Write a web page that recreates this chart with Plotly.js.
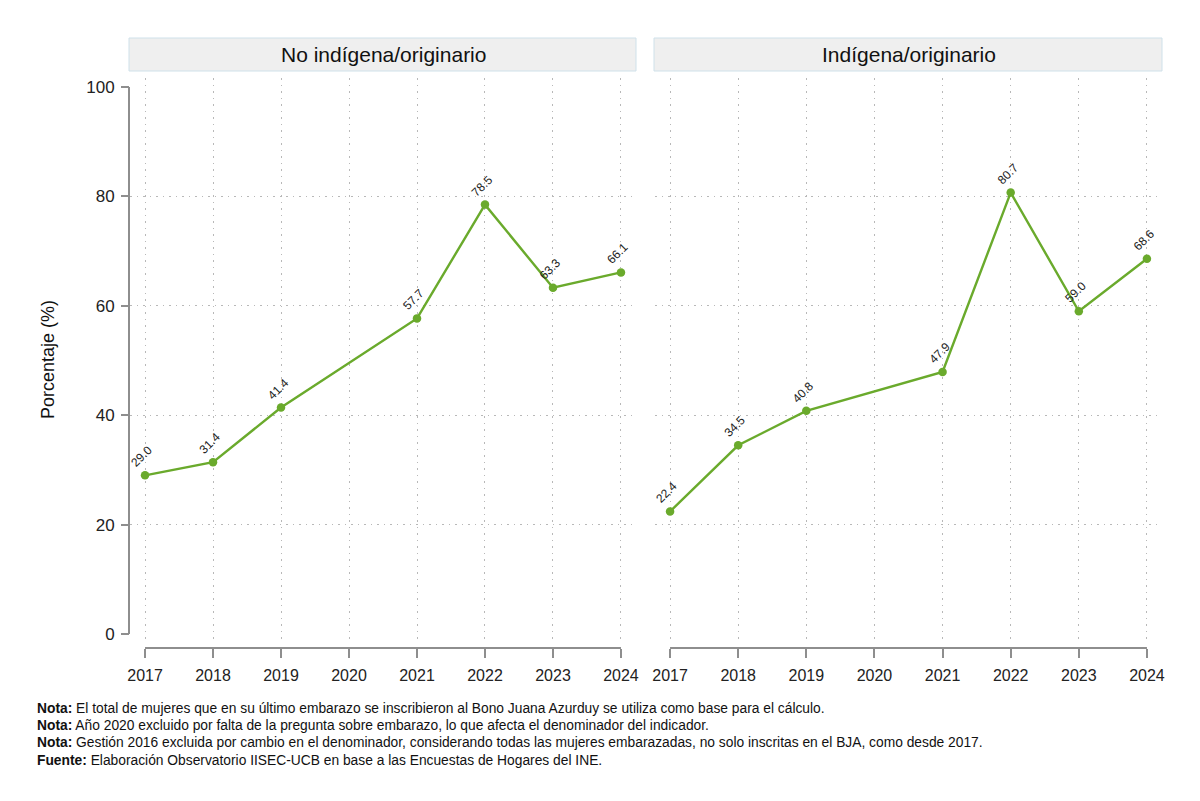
<!DOCTYPE html>
<html>
<head>
<meta charset="utf-8">
<script src="https://cdn.plot.ly/plotly-3.0.1.min.js"></script>
<style>
  html, body { margin: 0; padding: 0; background: #fff; }
  #chart { width: 1200px; height: 801px; }
</style>
</head>
<body>
<div id="chart"></div>
<script>
// Share of women enrolled in Bono Juana Azurduy during their last pregnancy, by group
const years = [2017, 2018, 2019, 2021, 2022, 2023, 2024];
const yearTicks = [2017, 2018, 2019, 2020, 2021, 2022, 2023, 2024];
const noIndigena = [29.0, 31.4, 41.4, 57.7, 78.5, 63.3, 66.1];
const indigena = [22.4, 34.5, 40.8, 47.9, 80.7, 59.0, 68.6];
const panelTitles = ['No indígena/originario', 'Indígena/originario'];
const yTicks = [0, 20, 40, 60, 80, 100];
const yGrid = [20, 40, 60, 80];
const notes = [
  ['Nota:', 'El total de mujeres que en su último embarazo se inscribieron al Bono Juana Azurduy se utiliza como base para el cálculo.'],
  ['Nota:', 'Año 2020 excluido por falta de la pregunta sobre embarazo, lo que afecta el denominador del indicador.'],
  ['Nota:', 'Gestión 2016 excluida por cambio en el denominador, considerando todas las mujeres embarazadas, no solo inscritas en el BJA, como desde 2017.'],
  ['Fuente:', 'Elaboración Observatorio IISEC-UCB en base a las Encuestas de Hogares del INE.']
];

const W = 1200, H = 801;
const px = v => v / W;          // horizontal pixel -> paper
const py = v => 1 - v / H;      // vertical pixel -> paper

const FONT = 'Liberation Sans, Arial, sans-serif';
const GREEN = '#6aaa2c';
const AXIS = '#8e8e8e';
const GRID = '#b8b8b8';

const xPad = 0.221;
const xRange = [yearTicks[0] - xPad, yearTicks[yearTicks.length - 1] + xPad];
const yRange = [-1.65, 101.65];
const xAxisPos = py(648);

const panels = [
  { xa: 'x', ya: 'y', vals: noIndigena, dom: [px(130), px(636)] },
  { xa: 'x2', ya: 'y2', vals: indigena, dom: [px(655), px(1162)] }
];

const traces = panels.map(p => ({
  type: 'scatter', mode: 'lines+markers',
  x: years, y: p.vals, xaxis: p.xa, yaxis: p.ya,
  line: { color: GREEN, width: 2.4 },
  marker: { color: GREEN, size: 8.5 },
  hoverinfo: 'x+y', showlegend: false
}));
// empty trace so the labelled left-hand y axis gets drawn
traces.push({ type: 'scatter', x: [], y: [], xaxis: 'x', yaxis: 'y3', showlegend: false });

function xAxis(dom) {
  return {
    domain: dom, range: xRange, anchor: 'free', position: xAxisPos,
    tickmode: 'array', tickvals: yearTicks, ticktext: yearTicks.map(String),
    ticks: 'outside', ticklen: 9, tickwidth: 2, tickcolor: AXIS,
    ticklabelstandoff: 4,
    tickfont: { family: FONT, size: 16, color: '#222' },
    showline: false, zeroline: false,
    showgrid: true, gridcolor: GRID, gridwidth: 1, griddash: '1.5px,5px',
    fixedrange: true, automargin: false
  };
}
function gridY(anchor) {
  return {
    domain: [py(643), py(78)], range: yRange, anchor: anchor,
    tickmode: 'array', tickvals: yGrid, showticklabels: false, ticks: '',
    showline: false, zeroline: false,
    showgrid: true, gridcolor: GRID, gridwidth: 1, griddash: '1.5px,5px',
    fixedrange: true, automargin: false
  };
}

const annotations = [];
const shapes = [];

panels.forEach((p, i) => {
  // data labels, rotated
  years.forEach((yr, k) => {
    annotations.push({
      xref: p.xa, yref: p.ya, x: yr, y: p.vals[k],
      text: p.vals[k].toFixed(1), showarrow: false, textangle: -45,
      xanchor: 'center', yanchor: 'middle', xshift: -3, yshift: 19,
      font: { family: FONT, size: 12, color: '#222' }
    });
  });
  // x axis baseline between first and last year
  shapes.push({
    type: 'line', xref: p.xa, yref: 'paper',
    x0: yearTicks[0], x1: yearTicks[yearTicks.length - 1], y0: xAxisPos, y1: xAxisPos,
    line: { color: AXIS, width: 2 }
  });
  // panel header strip
  shapes.push({
    type: 'rect', xref: 'paper', yref: 'paper',
    x0: p.dom[0] - px(1), x1: p.dom[1], y0: py(71), y1: py(38),
    fillcolor: '#efefef', line: { color: '#cfe1ea', width: 1 }, layer: 'below'
  });
  annotations.push({
    xref: 'paper', yref: 'paper', x: (p.dom[0] + p.dom[1]) / 2, y: py(55),
    text: panelTitles[i], showarrow: false, xanchor: 'center', yanchor: 'middle',
    font: { family: FONT, size: 21, color: '#111' }
  });
});

// y axis line from 0 to 100
shapes.push({
  type: 'line', xref: 'paper', yref: 'y',
  x0: px(129), x1: px(129), y0: yTicks[0], y1: yTicks[yTicks.length - 1],
  line: { color: AXIS, width: 2 }
});

annotations.push({
  xref: 'paper', yref: 'paper', x: px(48), y: py(360),
  text: 'Porcentaje (%)', showarrow: false, textangle: -90,
  xanchor: 'center', yanchor: 'middle',
  font: { family: FONT, size: 18, color: '#111' }
});

// footnotes, one line each
notes.forEach((n, k) => {
  annotations.push({
    xref: 'paper', yref: 'paper', x: px(35), y: py(708 + k * 17.4),
    xanchor: 'left', yanchor: 'middle', align: 'left', showarrow: false,
    text: '<b>' + n[0] + '</b> ' + n[1],
    font: { family: FONT, size: 13.8, color: '#111' }
  });
});

const layout = {
  width: W, height: H, autosize: false,
  margin: { l: 0, r: 0, t: 0, b: 0, pad: 0 },
  paper_bgcolor: '#fff', plot_bgcolor: 'rgba(0,0,0,0)',
  showlegend: false,
  xaxis: xAxis(panels[0].dom),
  xaxis2: xAxis(panels[1].dom),
  yaxis: gridY('x'),
  yaxis2: gridY('x2'),
  yaxis3: {
    overlaying: 'y', anchor: 'free', position: px(129), side: 'left',
    range: yRange, tickmode: 'array', tickvals: yTicks,
    ticks: 'outside', ticklen: 8, tickwidth: 2, tickcolor: AXIS,
    ticklabelstandoff: 3,
    tickfont: { family: FONT, size: 17, color: '#222' },
    showline: false, zeroline: false, showgrid: false,
    fixedrange: true, automargin: false
  },
  shapes: shapes,
  annotations: annotations
};

Plotly.newPlot('chart', traces, layout, { displayModeBar: false, staticPlot: true });
</script>
</body>
</html>
